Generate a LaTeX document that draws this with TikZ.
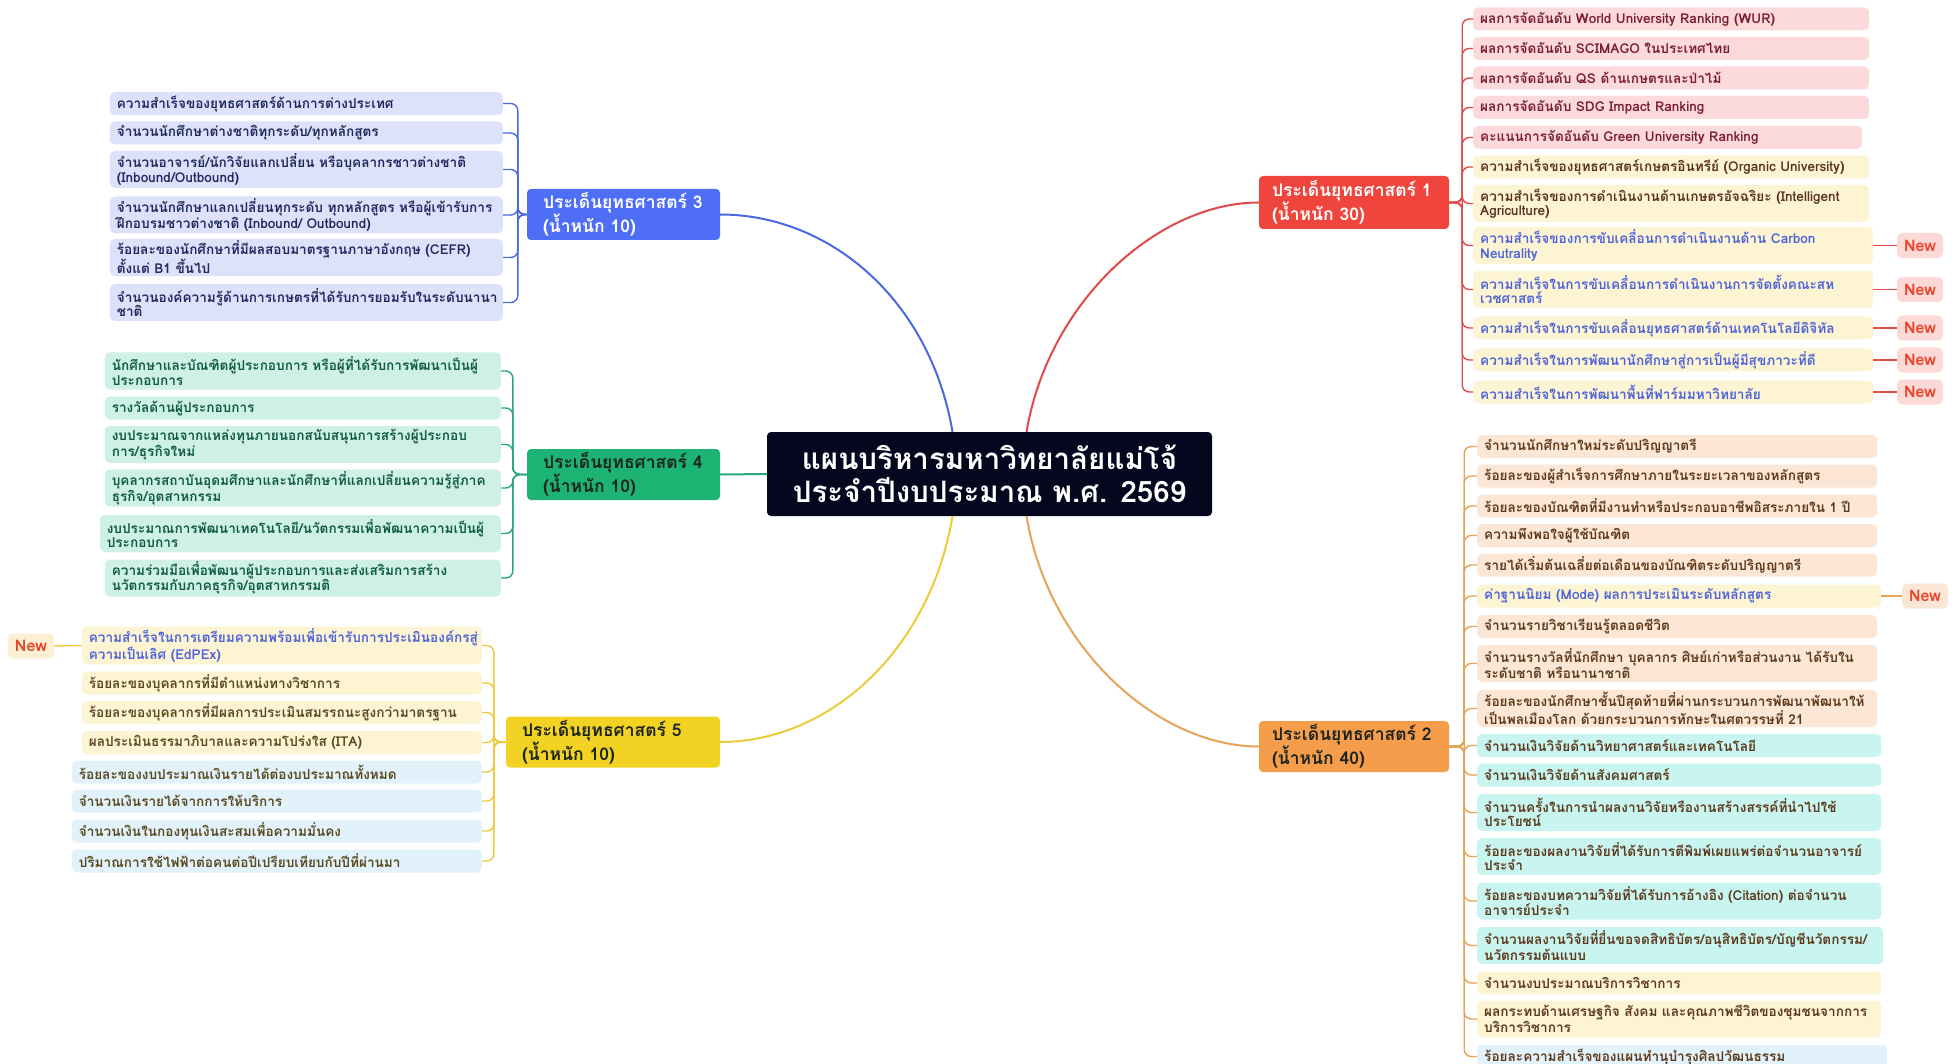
\documentclass[tikz,border=0pt]{standalone}
\usepackage{fontspec}
\setmainfont[Script=Thai]{Loma}
\usetikzlibrary{calc}
\definecolor{cdark}{HTML}{05071E}
\definecolor{cblue}{HTML}{4E6EF5}
\definecolor{cgreen}{HTML}{1DB372}
\definecolor{cyellow}{HTML}{F2D323}
\definecolor{cred}{HTML}{F0453D}
\definecolor{corange}{HTML}{F59D4A}
\definecolor{lblue}{HTML}{4A68E0}
\definecolor{lred}{HTML}{E04A48}
\definecolor{lyellow}{HTML}{EDCB3A}
\definecolor{lorange}{HTML}{E6A458}
\definecolor{lgreen}{HTML}{27A77A}
\definecolor{fthree}{HTML}{DDE2FA}
\definecolor{tthree}{HTML}{1F2B5E}
\definecolor{ffour}{HTML}{CFF1E3}
\definecolor{tfour}{HTML}{0F5B45}
\definecolor{fyel}{HTML}{FDF4D4}
\definecolor{fbl}{HTML}{E2F2FB}
\definecolor{tfive}{HTML}{5B4A1F}
\definecolor{fpink}{HTML}{FCDADB}
\definecolor{tpink}{HTML}{7A2030}
\definecolor{tbrown}{HTML}{5A3320}
\definecolor{tnew}{HTML}{4F63D8}
\definecolor{fpeach}{HTML}{FCE6D6}
\definecolor{fcyan}{HTML}{C8F5F0}
\definecolor{ttwo}{HTML}{5E3A1C}
\definecolor{fnewred}{HTML}{FCD9D6}
\definecolor{tnewred}{HTML}{E9452B}
\definecolor{fnewor}{HTML}{FBE6D6}
\definecolor{fnewyel}{HTML}{FCEFD3}
\definecolor{tstrat}{HTML}{1C241E}
\tikzset{
  box/.style={rounded corners=5pt, inner xsep=7pt, inner ysep=2pt, align=left,
    font=\fontsize{13.6}{14.5}\selectfont\bfseries, minimum height=23pt},
  two/.style={minimum height=37pt},
  gthree/.style={box, fill=fthree, text=tthree, text width=379pt, anchor=east},
  gfour/.style={box, fill=ffour, text=tfour, text width=382pt, anchor=east},
  gfive/.style={box, fill=fyel, text=tfive, text width=386pt, anchor=east},
  gfiveb/.style={box, fill=fbl, text=tfive, text width=396pt, anchor=east},
  gone/.style={box, fill=fpink, text=tpink, text width=382pt, anchor=west},
  goney/.style={box, fill=fyel, text=tbrown, text width=382pt, anchor=west},
  gonen/.style={box, fill=fyel, text=tnew, text width=386pt, anchor=west},
  gtwo/.style={box, fill=fpeach, text=ttwo, text width=386pt, anchor=west},
  gtwoc/.style={box, fill=fcyan, text=ttwo, text width=390pt, anchor=west},
  gtwoy/.style={box, fill=fyel, text=ttwo, text width=390pt, anchor=west},
  gtwob/.style={box, fill=fbl, text=ttwo, text width=396pt, anchor=west},
  newtag/.style={rounded corners=5pt, minimum width=46pt, minimum height=25pt, inner sep=2pt,
    font=\fontsize{16}{18}\selectfont\bfseries},
  strat/.style={rounded corners=4pt, align=left, inner xsep=16pt,
    font=\fontsize{17.5}{18}\selectfont\bfseries, minimum height=51pt, text width=161pt},
  conn/.style={line width=1.4pt, rounded corners=7pt},
  main/.style={line width=2pt},
}
\begin{document}
\begin{tikzpicture}[x=1pt,y=-1pt]
\useasboundingbox (0,0) rectangle (1959,1064);
\fill[white] (0,0) rectangle (1959,1064);
% center
\node[fill=cdark, rounded corners=4pt, text=white, align=center, minimum width=445pt, minimum height=84pt,
  font=\fontsize{29.5}{33}\selectfont\bfseries] (c) at (989.5,474) {แผนบริหารมหาวิทยาลัยแม่โจ้\\ประจำปีงบประมาณ พ.ศ. 2569};
% strategies
\node[strat, fill=cblue, text=white] (s3) at (623.5,214.5) {ประเด็นยุทธศาสตร์~3\\(น้ำหนัก 10)};
\node[strat, fill=cgreen, text=tstrat] (s4) at (623.5,474.5) {ประเด็นยุทธศาสตร์~4\\(น้ำหนัก 10)};
\node[strat, fill=cyellow, text=tstrat, text width=182pt] (s5) at (613,742) {ประเด็นยุทธศาสตร์~5\\(น้ำหนัก 10)};
\node[strat, fill=cred, text=white, inner xsep=13pt, text width=164pt, minimum height=53pt] (s1) at (1354,202.5) {ประเด็นยุทธศาสตร์~1\\(น้ำหนัก 30)};
\node[strat, fill=corange, text=tstrat, inner xsep=13pt, text width=164pt] (s2) at (1354,746.5) {ประเด็นยุทธศาสตร์~2\\(น้ำหนัก 40)};
% main curves
\draw[main, lblue] ([xshift=-37pt]c.north) .. controls (930,300) and (830,214.5) .. (s3.east);
\draw[main, lred] ([xshift=37pt]c.north) .. controls (1049,300) and (1159,202.5) .. (s1.west);
\draw[main, lyellow] ([xshift=-37pt]c.south) .. controls (930,650) and (830,742) .. (s5.east);
\draw[main, lorange] ([xshift=37pt]c.south) .. controls (1049,650) and (1159,746.5) .. (s2.west);
\draw[main, lgreen] (c.west) -- (s4.east);
% S3 items
\node[gthree] (s3a) at (503,103.5) {ความสำเร็จของยุทธศาสตร์ด้านการต่างประเทศ};
\node[gthree] (s3b) at (503,133) {จำนวนนักศึกษาต่างชาติทุกระดับ/ทุกหลักสูตร};
\node[gthree, two] (s3c) at (503,169.5) {จำนวนอาจารย์/นักวิจัยแลกเปลี่ยน หรือบุคลากรชาวต่างชาติ\\(Inbound/Outbound)};
\node[gthree, two] (s3d) at (503,215) {จำนวนนักศึกษาแลกเปลี่ยนทุกระดับ ทุกหลักสูตร หรือผู้เข้ารับการ\\ฝึกอบรมชาวต่างชาติ (Inbound/ Outbound)};
\node[gthree, two] (s3e) at (503,257.5) {ร้อยละของนักศึกษาที่มีผลสอบมาตรฐานภาษาอังกฤษ (CEFR)\\ตั้งแต่ B1 ขึ้นไป};
\node[gthree, two] (s3f) at (503,302.5) {จำนวนองค์ความรู้ด้านการเกษตรที่ได้รับการยอมรับในระดับนานา\\ชาติ};
\foreach \n in {s3a,s3b,s3c,s3d,s3e,s3f} \draw[conn, lblue] (s3.west) -- ++(-9,0) |- (\n.east);
% S4 items
\node[gfour, two] (s4a) at (501,371) {นักศึกษาและบัณฑิตผู้ประกอบการ หรือผู้ที่ได้รับการพัฒนาเป็นผู้\\ประกอบการ};
\node[gfour] (s4b) at (501,408) {รางวัลด้านผู้ประกอบการ};
\node[gfour, two] (s4c) at (501,444.5) {งบประมาณจากแหล่งทุนภายนอกสนับสนุนการสร้างผู้ประกอบ\\การ/ธุรกิจใหม่};
\node[gfour, two] (s4d) at (501,488) {บุคลากรสถาบันอุดมศึกษาและนักศึกษาที่แลกเปลี่ยนความรู้สู่ภาค\\ธุรกิจ/อุตสาหกรรม};
\node[gfour, two, text width=387pt] (s4e) at (501,533.5) {งบประมาณการพัฒนาเทคโนโลยี/นวัตกรรมเพื่อพัฒนาความเป็นผู้\\ประกอบการ};
\node[gfour, two] (s4f) at (501,578) {ความร่วมมือเพื่อพัฒนาผู้ประกอบการและส่งเสริมการสร้าง\\นวัตกรรมกับภาคธุรกิจ/อุตสาหกรรมติ};
\foreach \n in {s4a,s4b,s4c,s4d,s4e,s4f} \draw[conn, lgreen] (s4.west) -- ++(-14,0) |- (\n.east);
% S5 items
\node[gfive, two, text=tnew] (s5a) at (482,645.5) {ความสำเร็จในการเตรียมความพร้อมเพื่อเข้ารับการประเมินองค์กรสู่\\ความเป็นเลิศ (EdPEx)};
\node[gfive] (s5b) at (482,683) {ร้อยละของบุคลากรที่มีตำแหน่งทางวิชาการ};
\node[gfive] (s5c) at (482,712.5) {ร้อยละของบุคลากรที่มีผลการประเมินสมรรถนะสูงกว่ามาตรฐาน};
\node[gfive] (s5d) at (482,742.5) {ผลประเมินธรรมาภิบาลและความโปร่งใส (ITA)};
\node[gfiveb] (s5e) at (482,772) {ร้อยละของงบประมาณเงินรายได้ต่องบประมาณทั้งหมด};
\node[gfiveb] (s5f) at (482,801) {จำนวนเงินรายได้จากการให้บริการ};
\node[gfiveb] (s5g) at (482,831) {จำนวนเงินในกองทุนเงินสะสมเพื่อความมั่นคง};
\node[gfiveb] (s5h) at (482,861) {ปริมาณการใช้ไฟฟ้าต่อคนต่อปีเปรียบเทียบกับปีที่ผ่านมา};
\foreach \n in {s5a,s5b,s5c,s5d,s5e,s5f,s5g,s5h} \draw[conn, lyellow] (s5.west) -- ++(-12,0) |- (\n.east);
\node[newtag, fill=fnewyel, text=tnewred] (n5a) at (31,646) {New};
\draw[conn, lyellow] (n5a.east) -- (s5a.west);
% S1 items
\node[gone] (s1a) at (1473,19) {ผลการจัดอันดับ World University Ranking (WUR)};
\node[gone] (s1b) at (1473,48.5) {ผลการจัดอันดับ SCIMAGO ในประเทศไทย};
\node[gone] (s1c) at (1473,78) {ผลการจัดอันดับ QS ด้านเกษตรและป่าไม้};
\node[gone] (s1d) at (1473,107.5) {ผลการจัดอันดับ SDG Impact Ranking};
\node[gone, text width=375pt] (s1e) at (1473,137.5) {คะแนนการจัดอันดับ Green University Ranking};
\node[goney] (s1f) at (1473,167) {ความสำเร็จของยุทธศาสตร์เกษตรอินทรีย์ (Organic University)};
\node[goney, two] (s1g) at (1473,203.5) {ความสำเร็จของการดำเนินงานด้านเกษตรอัจฉริยะ (Intelligent\\Agriculture)};
\node[gonen, two] (s1h) at (1473,245.5) {ความสำเร็จของการขับเคลื่อนการดำเนินงานด้าน Carbon\\Neutrality};
\node[gonen, two] (s1i) at (1473,289.5) {ความสำเร็จในการขับเคลื่อนการดำเนินงานการจัดตั้งคณะสห\\เวชศาสตร์};
\node[gonen] (s1j) at (1473,328) {ความสำเร็จในการขับเคลื่อนยุทธศาสตร์ด้านเทคโนโลยีดิจิทัล};
\node[gonen] (s1k) at (1473,360) {ความสำเร็จในการพัฒนานักศึกษาสู่การเป็นผู้มีสุขภาวะที่ดี};
\node[gonen] (s1l) at (1473,392) {ความสำเร็จในการพัฒนาพื้นที่ฟาร์มมหาวิทยาลัย};
\foreach \n in {s1a,s1b,s1c,s1d,s1e,s1f,s1g,s1h,s1i,s1j,s1k,s1l} \draw[conn, lred] (s1.east) -- ++(13,0) |- (\n.west);
\foreach \n/\y in {s1h/245.5,s1i/289.5,s1j/328,s1k/360,s1l/392} {
  \node[newtag, fill=fnewred, text=tnewred] (n\n) at (1920,\y) {New};
  \draw[conn, lred] (\n.east) -- (n\n.west);
}
% S2 items
\node[gtwo] (s2a) at (1477,446.5) {จำนวนนักศึกษาใหม่ระดับปริญญาตรี};
\node[gtwo] (s2b) at (1477,476) {ร้อยละของผู้สำเร็จการศึกษาภายในระยะเวลาของหลักสูตร};
\node[gtwo] (s2c) at (1477,506) {ร้อยละของบัณฑิตที่มีงานทำหรือประกอบอาชีพอิสระภายใน 1 ปี};
\node[gtwo] (s2d) at (1477,535.5) {ความพึงพอใจผู้ใช้บัณฑิต};
\node[gtwo] (s2e) at (1477,565) {รายได้เริ่มต้นเฉลี่ยต่อเดือนของบัณฑิตระดับปริญญาตรี};
\node[gtwoy, text=tnew] (s2f) at (1477,596) {ค่าฐานนิยม (Mode) ผลการประเมินระดับหลักสูตร};
\node[gtwo] (s2g) at (1477,626.5) {จำนวนรายวิชาเรียนรู้ตลอดชีวิต};
\node[gtwo, two] (s2h) at (1477,663.5) {จำนวนรางวัลที่นักศึกษา บุคลากร ศิษย์เก่าหรือส่วนงาน ได้รับใน\\ระดับชาติ หรือนานาชาติ};
\node[gtwo, two] (s2i) at (1477,708.5) {ร้อยละของนักศึกษาชั้นปีสุดท้ายที่ผ่านกระบวนการพัฒนาพัฒนาให้\\เป็นพลเมืองโลก ด้วยกระบวนการทักษะในศตวรรษที่ 21};
\node[gtwoc] (s2j) at (1477,745.5) {จำนวนเงินวิจัยด้านวิทยาศาสตร์และเทคโนโลยี};
\node[gtwoc] (s2k) at (1477,775) {จำนวนเงินวิจัยด้านสังคมศาสตร์};
\node[gtwoc, two] (s2l) at (1477,812.5) {จำนวนครั้งในการนำผลงานวิจัยหรืองานสร้างสรรค์ที่นำไปใช้\\ประโยชน์};
\node[gtwoc, two] (s2m) at (1477,856.5) {ร้อยละของผลงานวิจัยที่ได้รับการตีพิมพ์เผยแพร่ต่อจำนวนอาจารย์\\ประจำ};
\node[gtwoc, two] (s2n) at (1477,901) {ร้อยละของบทความวิจัยที่ได้รับการอ้างอิง (Citation) ต่อจำนวน\\อาจารย์ประจำ};
\node[gtwoc, two, text width=392pt] (s2o) at (1477,945.5) {จำนวนผลงานวิจัยที่ยื่นขอจดสิทธิบัตร/อนุสิทธิบัตร/บัญชีนวัตกรรม/\\นวัตกรรมต้นแบบ};
\node[gtwoy] (s2p) at (1477,983) {จำนวนงบประมาณบริการวิชาการ};
\node[gtwoy, two] (s2q) at (1477,1019) {ผลกระทบด้านเศรษฐกิจ สังคม และคุณภาพชีวิตของชุมชนจากการ\\บริการวิชาการ};
\node[gtwob] (s2r) at (1477,1056.5) {ร้อยละความสำเร็จของแผนทำนุบำรุงศิลปวัฒนธรรม};
\foreach \n in {s2a,s2b,s2c,s2d,s2e,s2f,s2g,s2h,s2i,s2j,s2k,s2l,s2m,s2n,s2o,s2p,s2q,s2r} \draw[conn, lorange] (s2.east) -- ++(15,0) |- (\n.west);
\node[newtag, fill=fnewor, text=tnewred] (n2f) at (1925,596) {New};
\draw[conn, lorange] (s2f.east) -- (n2f.west);
\end{tikzpicture}
\end{document}
